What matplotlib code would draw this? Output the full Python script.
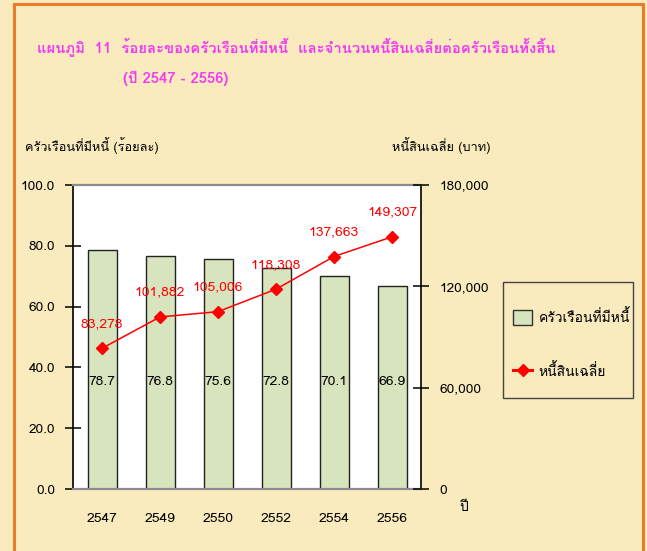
import matplotlib
matplotlib.use("Agg")
import matplotlib.pyplot as plt
from matplotlib.patches import Rectangle, Patch
from matplotlib.lines import Line2D
from matplotlib.ticker import FuncFormatter, MultipleLocator

plt.rcParams['font.family'] = ['Loma', 'Noto Sans Thai', 'DejaVu Sans']

# data
years = ['2547', '2549', '2550', '2552', '2554', '2556']
pct_households = [78.7, 76.8, 75.6, 72.8, 70.1, 66.9]
avg_debt = [83278, 101882, 105006, 118308, 137663, 149307]

title_1 = 'แผนภูมิ  11  ร้อยละของครัวเรือนที่มีหนี้  และจำนวนหนี้สินเฉลี่ยต่อครัวเรือนทั้งสิ้น'
title_2 = '(ปี 2547 - 2556)'
left_label = 'ครัวเรือนที่มีหนี้ (ร้อยละ)'
right_label = 'หนี้สินเฉลี่ย (บาท)'
bar_name = 'ครัวเรือนที่มีหนี้'
line_name = 'หนี้สินเฉลี่ย'

bg = '#FAEBBE'
bar_color = '#D7E4BD'
red = '#FF0000'
magenta = '#F23CF2'
W, H = 647, 551

fig = plt.figure(figsize=(6.47, 5.51), dpi=100)
fig.patch.set_facecolor(bg)

# orange frame
fig.patches.append(Rectangle((13.5 / W, -0.05), (643 - 13.5) / W, 1.05 - 3.5 / H,
                             transform=fig.transFigure, fill=False,
                             edgecolor='#EB7D2A', linewidth=2.2))

ax = fig.add_axes([73 / W, 62 / H, 348 / W, 304 / H])
ax.set_facecolor('white')
x = list(range(len(years)))
ax.bar(x, pct_households, width=0.5, color=bar_color, edgecolor='#222222',
       linewidth=1.0, zorder=2)
for xi, v in zip(x, pct_households):
    ax.text(xi, 35.2, f'{v:.1f}', ha='center', va='center', fontsize=10,
            color='black', zorder=5)

ax.set_xlim(-0.5, len(years) - 0.5)
ax.set_ylim(0, 100)
ax.yaxis.set_major_locator(MultipleLocator(20))
ax.yaxis.set_major_formatter(FuncFormatter(lambda v, p: f'{v:.1f}'))
ax.set_xticks(x)
ax.set_xticklabels(years)
ax.tick_params(axis='x', length=0, pad=17, labelsize=10)
ax.tick_params(axis='y', direction='inout', length=12, width=1.1,
               labelsize=9.8, pad=7)
for s in ['left', 'right']:
    ax.spines[s].set_color('black')
    ax.spines[s].set_linewidth(1.2)
for s in ['top', 'bottom']:
    ax.spines[s].set_color('#8C8C8C')
    ax.spines[s].set_linewidth(1.6)

ax2 = ax.twinx()
ax2.plot(x, avg_debt, color=red, linewidth=1.1, marker='D', markersize=6,
         zorder=4)
for xi, v in zip(x, avg_debt):
    ax2.text(xi, v + 14500, f'{v:,}', ha='center', va='center', fontsize=10,
             color=red)
ax2.set_ylim(0, 180000)
ax2.yaxis.set_major_locator(MultipleLocator(60000))
ax2.yaxis.set_major_formatter(FuncFormatter(lambda v, p: f'{int(v):,}'))
ax2.tick_params(axis='y', direction='inout', length=12, width=1.1,
                labelsize=9.8, pad=7)
for s in ['top', 'bottom', 'left', 'right']:
    ax2.spines[s].set_visible(False)

# titles and axis names
fig.text(37 / W, 1 - 47 / H, title_1, color=magenta, fontsize=10.7,
         fontweight='bold', va='center', ha='left')
fig.text(123 / W, 1 - 78 / H, title_2, color=magenta, fontsize=10.7,
         fontweight='bold', va='center', ha='left')
fig.text(25 / W, 1 - 146 / H, left_label, fontsize=9.2, va='center',
         ha='left')
fig.text(490 / W, 1 - 146 / H, right_label, fontsize=9.2, va='center',
         ha='right')
fig.text(464 / W, 1 - 508 / H, 'ปี', fontsize=10, va='center',
         ha='center')

# legend (frame drawn separately so its size matches the reference)
fig.patches.append(Rectangle((503 / W, 1 - 398 / H), 130 / W, 116 / H,
                             transform=fig.transFigure, facecolor=bg,
                             edgecolor='#444444', linewidth=1.0, zorder=3))
handles = [Patch(facecolor=bar_color, edgecolor='#333333', linewidth=1.0),
           Line2D([0], [0], color=red, linewidth=2.2, marker='D',
                  markersize=6)]
leg = fig.legend(handles, [bar_name, line_name], loc='upper left',
                 bbox_to_anchor=(513 / W, 1 - 309 / H), fontsize=10,
                 frameon=False, borderpad=0, labelspacing=2.75,
                 handlelength=1.4, handleheight=1.3, handletextpad=0.45,
                 borderaxespad=0)
leg.set_zorder(4)

fig.savefig('out.png', dpi=100, facecolor=bg)
